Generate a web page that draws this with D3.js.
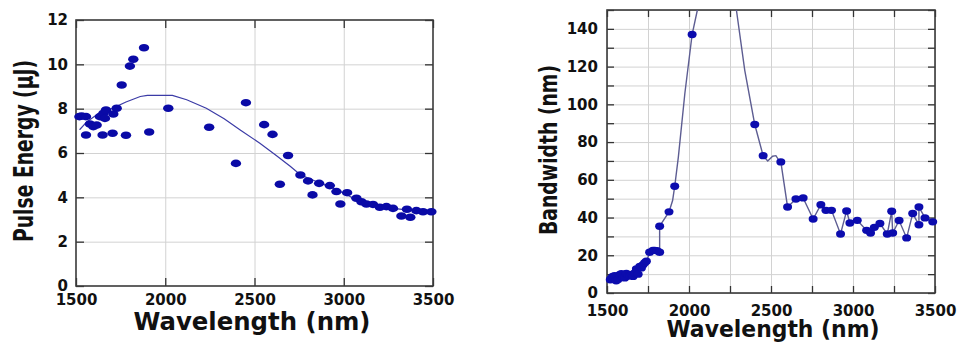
<!DOCTYPE html>
<html>
<head>
<meta charset="utf-8">
<script src="https://cdn.jsdelivr.net/npm/d3@7"></script>
<style>
  body { margin: 0; background: #fff; }
  svg { display: block; }
  .tick text { font-family: "DejaVu Sans", sans-serif; font-weight: bold; font-size: 15px; fill: #111; }
  .title { font-family: "DejaVu Sans", sans-serif; font-weight: bold; fill: #111; }
</style>
</head>
<body>
<div class="chart"></div>
<script>
// pulse energy panel: measured points
const peWavelength = [1519, 1532, 1556, 1556, 1578, 1597, 1616, 1634, 1649, 1653, 1662, 1668, 1705, 1709, 1728, 1756, 1780, 1802, 1821, 1881, 1910, 2017, 2246, 2396, 2452, 2554, 2601, 2642, 2688, 2757, 2800, 2825, 2862, 2922, 2959, 2981, 3019, 3071, 3099, 3127, 3164, 3202, 3239, 3276, 3323, 3354, 3373, 3407, 3444, 3491];
const peEnergy = [7.64, 7.67, 7.64, 6.81, 7.31, 7.19, 7.26, 7.64, 6.81, 7.79, 7.56, 7.94, 6.89, 7.76, 8.02, 9.07, 6.80, 9.92, 10.23, 10.75, 6.95, 8.02, 7.16, 5.53, 8.27, 7.28, 6.84, 4.59, 5.89, 5.01, 4.74, 4.11, 4.63, 4.53, 4.26, 3.70, 4.21, 3.96, 3.80, 3.70, 3.68, 3.55, 3.58, 3.50, 3.16, 3.46, 3.10, 3.40, 3.35, 3.35];
// pulse energy panel: fitted curve
const peFitWavelength = [1520, 1560, 1620, 1700, 1780, 1860, 1900, 2040, 2120, 2230, 2330, 2420, 2530, 2620, 2700, 2760, 2850, 2930, 3010, 3100, 3200, 3300, 3400, 3500];
const peFitEnergy = [7.05, 7.4, 7.75, 8.0, 8.3, 8.55, 8.6, 8.6, 8.4, 8.02, 7.55, 7.04, 6.44, 5.9, 5.4, 5.0, 4.7, 4.45, 4.15, 3.75, 3.55, 3.48, 3.4, 3.35];

// bandwidth panel: measured points
const bwWavelength = [1520, 1526, 1535, 1547, 1556, 1567, 1577, 1587, 1598, 1608, 1618, 1628, 1638, 1649, 1659, 1669, 1679, 1690, 1700, 1710, 1720, 1730, 1740, 1760, 1780, 1791, 1805, 1821, 1821, 1878, 1913, 2019, 2401, 2452, 2560, 2601, 2652, 2696, 2757, 2804, 2835, 2869, 2924, 2961, 2981, 3026, 3083, 3107, 3130, 3164, 3209, 3236, 3242, 3281, 3327, 3364, 3402, 3402, 3439, 3486];
const bwValue = [7.0, 7.9, 8.8, 9.2, 6.5, 7.1, 9.7, 10.2, 8.4, 8.0, 10.3, 9.0, 9.2, 9.8, 8.8, 10.6, 12.7, 10.0, 14.1, 13.3, 15.0, 16.0, 16.8, 21.6, 22.6, 22.6, 22.4, 21.6, 35.4, 43.0, 56.6, 137.0, 89.3, 72.8, 69.5, 45.6, 49.8, 50.4, 39.2, 46.8, 43.8, 43.8, 31.3, 43.5, 37.1, 38.5, 33.2, 31.8, 34.8, 36.8, 31.3, 43.3, 31.8, 38.4, 29.2, 42.1, 36.2, 45.6, 39.8, 37.7];
// bandwidth panel: connecting line (peak runs off the top of the axes)
const bwLineWavelength = [1520, 1547, 1567, 1587, 1608, 1638, 1659, 1679, 1700, 1720, 1740, 1760, 1791, 1821, 1821, 1878, 1900, 1913, 1935, 1975, 2019, 2051, 2100, 2170, 2240, 2289, 2340, 2401, 2452, 2480, 2510, 2530, 2548, 2560, 2601, 2652, 2696, 2757, 2804, 2835, 2869, 2924, 2961, 2981, 3026, 3083, 3107, 3130, 3164, 3209, 3236, 3242, 3281, 3327, 3364, 3402, 3402, 3439, 3486];
const bwLineValue = [7.5, 8.5, 7.8, 9.5, 9.0, 10.5, 11.5, 13.0, 14.0, 15.0, 16.5, 21.6, 22.6, 21.8, 35.4, 43.0, 49.0, 56.6, 72, 106, 137, 150, 175, 192, 178, 150, 118, 89.3, 72.8, 70.0, 72.5, 72.8, 70.3, 69.5, 45.6, 49.8, 50.4, 39.2, 46.8, 43.8, 43.8, 31.3, 43.5, 37.1, 38.5, 33.2, 31.8, 34.8, 36.8, 31.3, 43.3, 31.8, 38.4, 29.2, 42.1, 36.2, 45.6, 39.8, 37.7];

// ticks
const wlLabelTicks = [1500, 2000, 2500, 3000, 3500];
const peYTicks = [0, 2, 4, 6, 8, 10, 12];
const bwXMinor = [1500, 1750, 2000, 2250, 2500, 2750, 3000, 3250, 3500];
const bwYTicks = [0, 20, 40, 60, 80, 100, 120, 140];
const bwYMinor = d3.range(0, 151, 10);

const width = 960, height = 343;

const svg = d3.select(".chart").append("svg")
  .attr("width", width)
  .attr("height", height);

const clipId = (name) => "clip-" + name;

function panel(cfg) {
  const g = svg.append("g");
  const x = d3.scaleLinear().domain(cfg.xDomain).range([cfg.left, cfg.right]);
  const y = d3.scaleLinear().domain(cfg.yDomain).range([cfg.bottom, cfg.top]);

  //clip area
  svg.append("clipPath").attr("id", clipId(cfg.name))
    .append("rect")
    .attr("x", cfg.left).attr("y", cfg.top)
    .attr("width", cfg.right - cfg.left).attr("height", cfg.bottom - cfg.top);

  //grid lines
  g.append("g")
    .attr("transform", `translate(0,${cfg.bottom})`)
    .call(d3.axisBottom(x).tickValues(cfg.xGrid).tickSize(-(cfg.bottom - cfg.top)).tickFormat(""))
    .call(s => s.select(".domain").remove())
    .selectAll("line").attr("stroke", "#d2d2d2");
  g.append("g")
    .attr("transform", `translate(${cfg.left},0)`)
    .call(d3.axisLeft(y).tickValues(cfg.yGrid).tickSize(-(cfg.right - cfg.left)).tickFormat(""))
    .call(s => s.select(".domain").remove())
    .selectAll("line").attr("stroke", "#d2d2d2");

  //inward ticks on all four sides
  const tk = cfg.tickLen;
  const inward = [
    [d3.axisBottom(x).tickValues(cfg.xTicks), `translate(0,${cfg.bottom})`],
    [d3.axisTop(x).tickValues(cfg.xTicks), `translate(0,${cfg.top})`],
    [d3.axisLeft(y).tickValues(cfg.yTicks), `translate(${cfg.left},0)`],
    [d3.axisRight(y).tickValues(cfg.yTicks), `translate(${cfg.right},0)`]
  ];
  inward.forEach(([ax, tr]) => {
    g.append("g").attr("transform", tr)
      .call(ax.tickSize(-tk).tickFormat(""))
      .call(s => s.select(".domain").remove())
      .selectAll("line").attr("stroke", "#333").attr("stroke-width", 1.3);
  });

  //frame
  g.append("rect")
    .attr("x", cfg.left).attr("y", cfg.top)
    .attr("width", cfg.right - cfg.left).attr("height", cfg.bottom - cfg.top)
    .attr("fill", "none").attr("stroke", "#3a3a3a").attr("stroke-width", 1.6);

  //tick labels
  g.append("g")
    .attr("transform", `translate(0,${cfg.bottom})`)
    .call(d3.axisBottom(x).tickValues(wlLabelTicks).tickSize(0).tickPadding(cfg.xPad).tickFormat(d3.format("d")))
    .call(s => s.select(".domain").remove());
  g.append("g")
    .attr("transform", `translate(${cfg.left},0)`)
    .call(d3.axisLeft(y).tickValues(cfg.yLabels).tickSize(0).tickPadding(cfg.yPad).tickFormat(d3.format("d")))
    .call(s => s.select(".domain").remove());

  //axis titles
  g.append("text").attr("class", "title")
    .text("Wavelength (nm)")
    .attr("x", cfg.xTitleX).attr("y", cfg.xTitleY)
    .attr("text-anchor", "middle")
    .attr("font-size", cfg.xTitleSize)
    .attr("textLength", cfg.xTitleLen).attr("lengthAdjust", "spacingAndGlyphs");
  g.append("text").attr("class", "title")
    .text(cfg.yTitle)
    .attr("transform", `translate(${cfg.yTitleX},${cfg.yTitleY}) rotate(-90)`)
    .attr("text-anchor", "middle")
    .attr("font-size", cfg.yTitleSize)
    .attr("textLength", cfg.yTitleLen).attr("lengthAdjust", "spacingAndGlyphs");

  return { g, x, y };
}

// left: pulse energy
const pe = panel({
  name: "pe", xDomain: [1500, 3500], yDomain: [0, 12],
  left: 76, right: 433, top: 20, bottom: 286,
  xGrid: [2000, 2500, 3000], yGrid: [2, 4, 6, 8, 10],
  xTicks: wlLabelTicks, yTicks: peYTicks, yLabels: peYTicks, tickLen: 8,
  xPad: 8, yPad: 8,
  xTitleX: 252, xTitleY: 330, xTitleSize: 24, xTitleLen: 237,
  yTitle: "Pulse Energy (μJ)", yTitleX: 33, yTitleY: 151, yTitleSize: 27, yTitleLen: 182
});

const peLine = d3.line()
  .x((d, i) => pe.x(peFitWavelength[i]))
  .y(d => pe.y(d));

pe.g.append("path")
  .datum(peFitEnergy)
  .attr("clip-path", `url(#${clipId("pe")})`)
  .attr("fill", "none")
  .attr("stroke", "#3b3ba6")
  .attr("stroke-width", 1.2)
  .attr("d", peLine);

pe.g.append("g").selectAll("ellipse")
  .data(peEnergy)
  .join("ellipse")
  .attr("cx", (d, i) => pe.x(peWavelength[i]))
  .attr("cy", d => pe.y(d))
  .attr("rx", 5.2).attr("ry", 3.8)
  .attr("fill", "#0a0aa6");

// right: bandwidth
const bw = panel({
  name: "bw", xDomain: [1500, 3500], yDomain: [0, 150],
  left: 607, right: 935, top: 10, bottom: 293,
  xGrid: bwXMinor, yGrid: bwYMinor,
  xTicks: bwXMinor, yTicks: bwYMinor, yLabels: bwYTicks, tickLen: 7,
  xPad: 12, yPad: 9,
  xTitleX: 773, xTitleY: 337, xTitleSize: 23, xTitleLen: 213,
  yTitle: "Bandwidth (nm)", yTitleX: 557, yTitleY: 150, yTitleSize: 25, yTitleLen: 170
});

const bwLine = d3.line()
  .x((d, i) => bw.x(bwLineWavelength[i]))
  .y(d => bw.y(d));

bw.g.append("path")
  .datum(bwLineValue)
  .attr("clip-path", `url(#${clipId("bw")})`)
  .attr("fill", "none")
  .attr("stroke", "#5d5d92")
  .attr("stroke-width", 1.4)
  .attr("d", bwLine);

bw.g.append("g").selectAll("ellipse")
  .data(bwValue)
  .join("ellipse")
  .attr("cx", (d, i) => bw.x(bwWavelength[i]))
  .attr("cy", d => bw.y(d))
  .attr("rx", 4.5).attr("ry", 3.7)
  .attr("fill", "#0c0cae");
</script>
</body>
</html>
